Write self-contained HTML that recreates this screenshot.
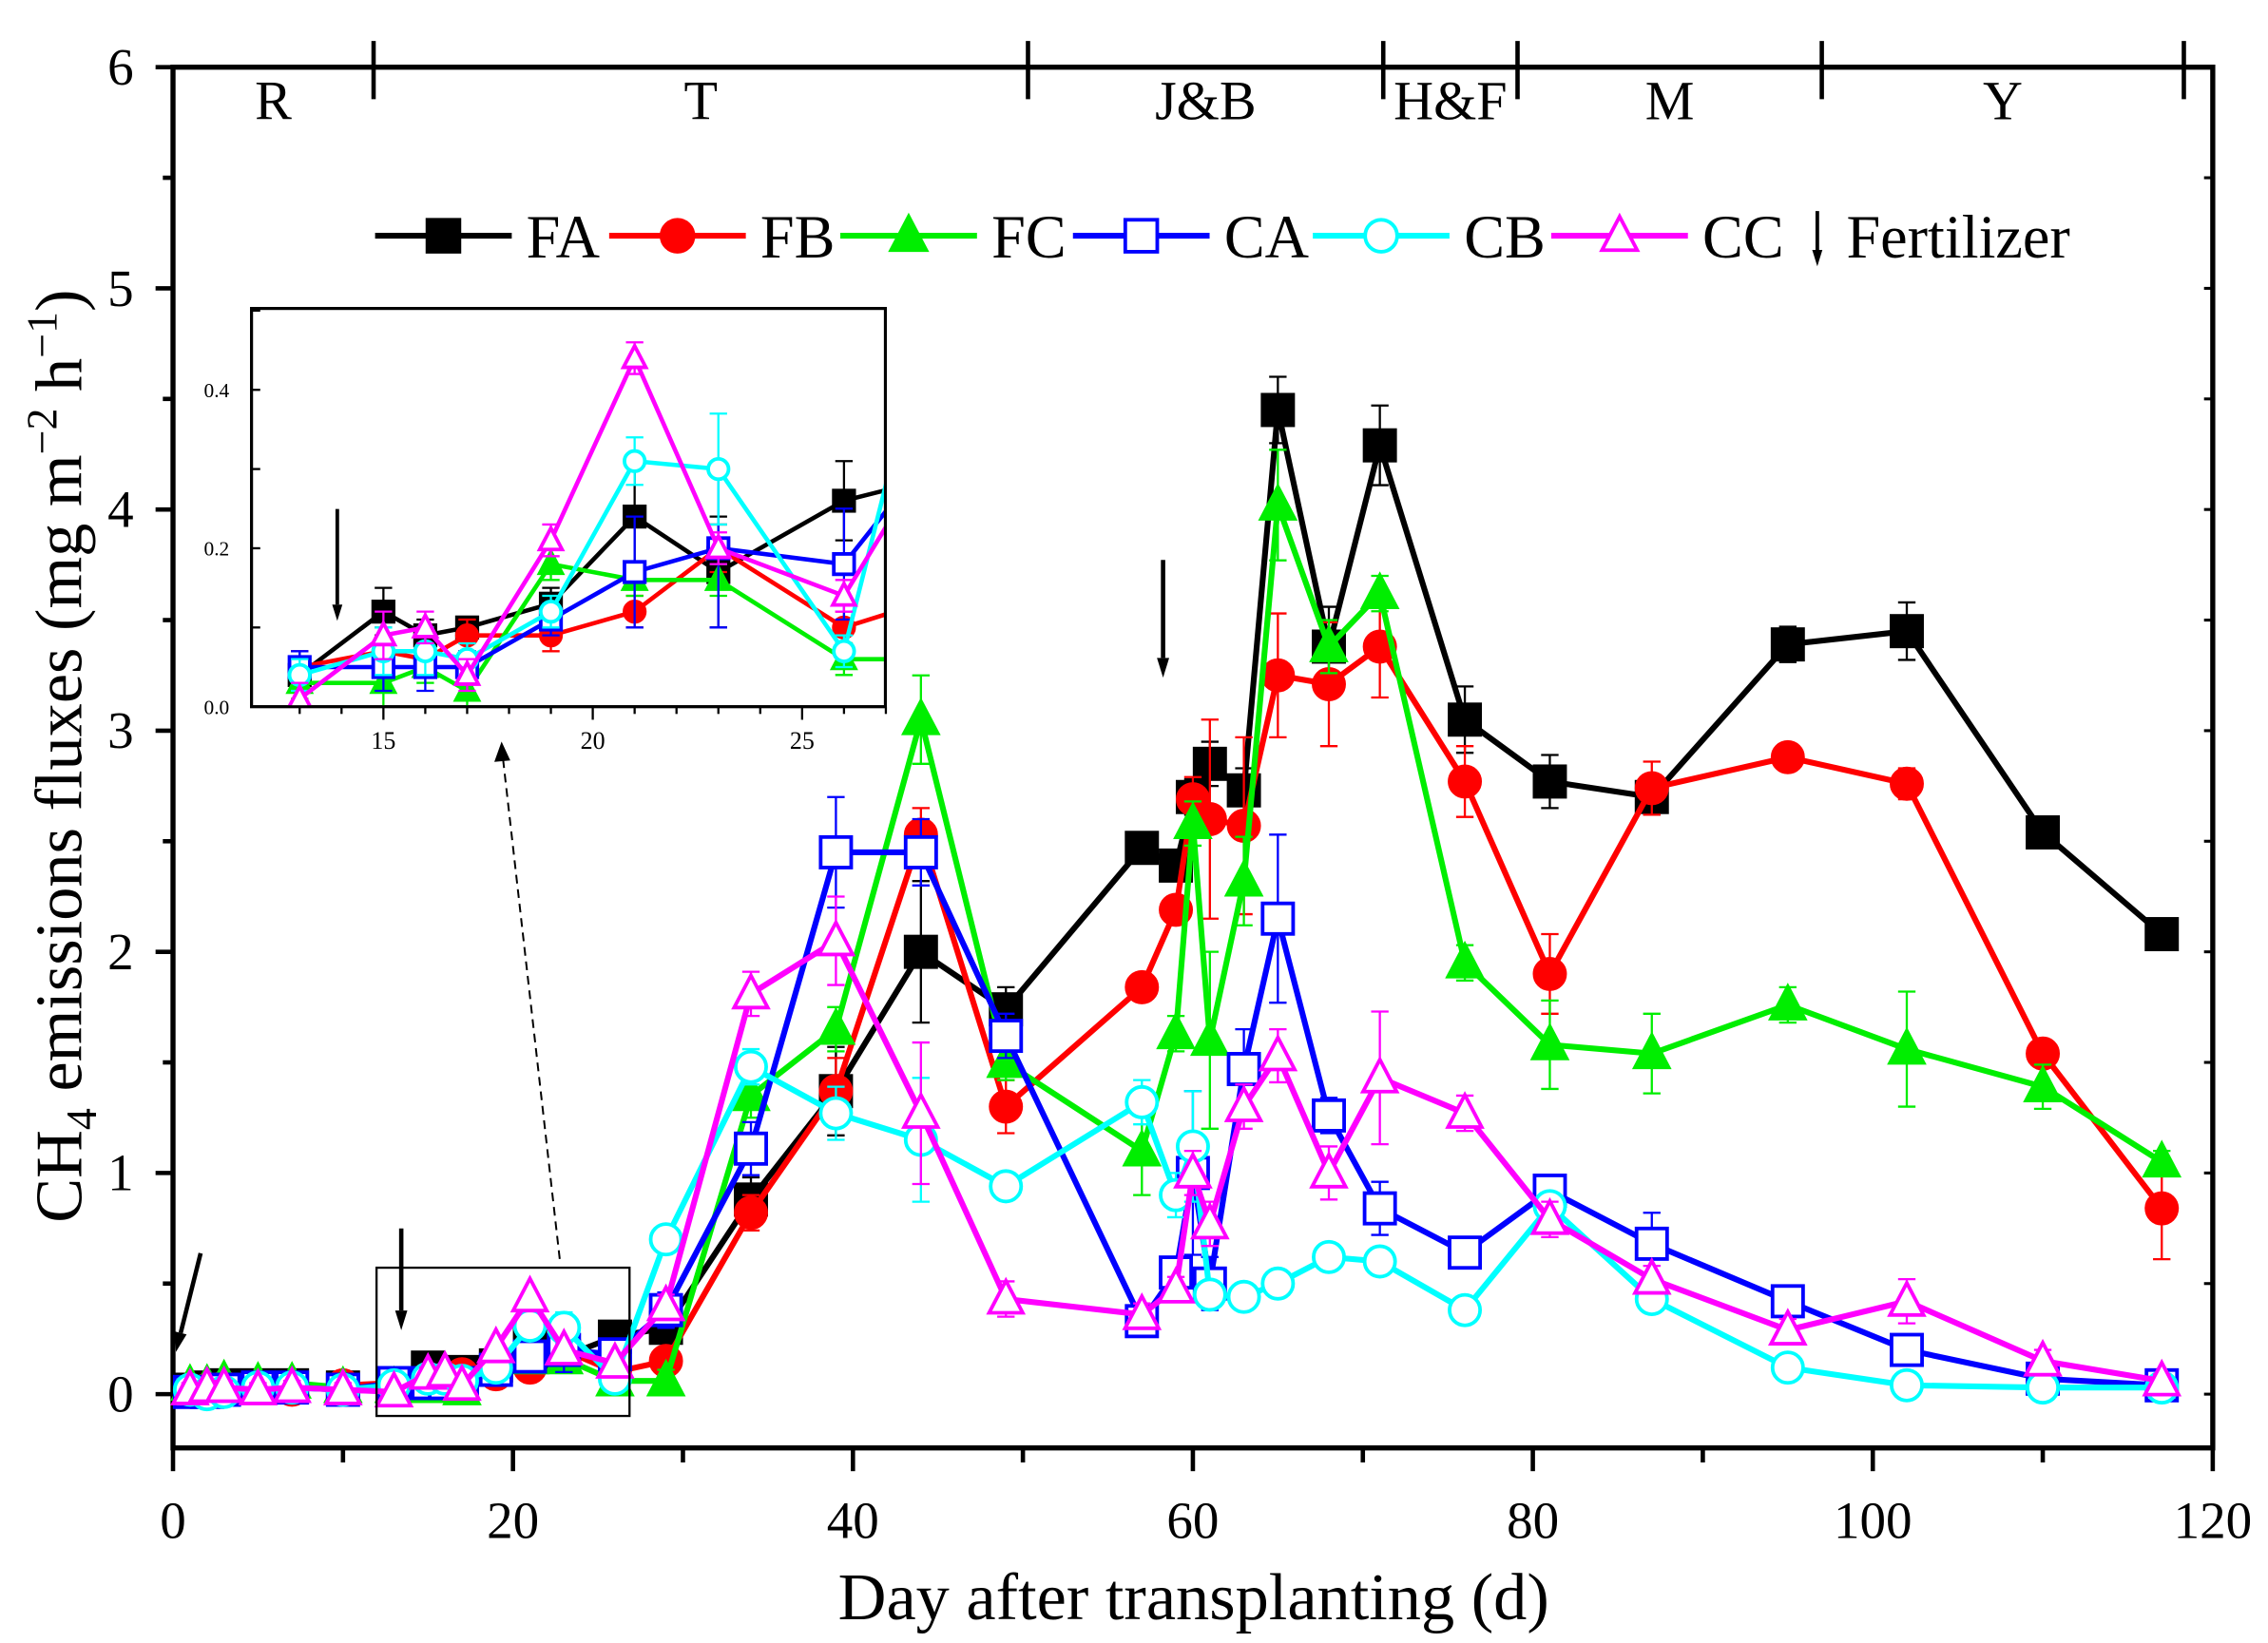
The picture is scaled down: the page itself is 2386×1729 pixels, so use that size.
<!DOCTYPE html>
<html><head><meta charset="utf-8"><style>
html,body{margin:0;padding:0;background:#fff;}
svg{display:block;font-family:"Liberation Serif",serif;}
</style></head><body>
<svg id="chart" width="2386" height="1729" viewBox="0 0 1560 1130" xmlns="http://www.w3.org/2000/svg">
<defs>
<clipPath id="insetClip"><rect x="173" y="212" width="436" height="274"/></clipPath>
</defs>
</svg>
<script>
const days=[1,2,3,5,7,10,13,15,16,17,19,21,23,26,29,34,39,44,49,57,59,60,61,63,65,68,71,76,81,87,95,102,110,117];
const FA=[0.02,0.03,0.04,0.04,0.04,0.03,0.04,0.12,0.09,0.10,0.13,0.24,0.17,0.26,0.30,0.88,1.37,2.00,1.74,2.47,2.39,2.70,2.85,2.73,4.45,3.38,4.29,3.05,2.77,2.70,3.39,3.45,2.54,2.08];
const FB=[0.02,0.02,0.03,0.03,0.02,0.04,0.05,0.07,0.06,0.09,0.09,0.12,0.20,0.10,0.15,0.82,1.37,2.53,1.30,1.84,2.19,2.69,2.60,2.57,3.25,3.21,3.38,2.77,1.90,2.74,2.88,2.76,1.54,0.84];
const FC=[0.04,0.04,0.06,0.05,0.05,0.03,0.03,0.03,0.05,0.02,0.18,0.16,0.16,0.06,0.06,1.35,1.65,3.05,1.50,1.10,1.63,2.58,1.60,2.32,4.02,3.38,3.62,1.95,1.58,1.54,1.76,1.56,1.39,1.05];
const CA=[0.01,0.01,0.02,0.03,0.03,0.02,0.05,0.05,0.05,0.05,0.11,0.17,0.20,0.18,0.38,1.11,2.45,2.45,1.62,0.33,0.55,1.00,0.50,1.47,2.15,1.26,0.84,0.64,0.92,0.68,0.42,0.20,0.07,0.04];
const CB=[0.02,0.00,0.01,0.03,0.03,0.02,0.04,0.07,0.07,0.06,0.12,0.31,0.30,0.07,0.70,1.48,1.27,1.15,0.94,1.32,0.90,1.12,0.45,0.44,0.50,0.62,0.60,0.38,0.85,0.43,0.12,0.04,0.03,0.03];
const CC=[0.02,0.03,0.03,0.02,0.03,0.02,0.01,0.09,0.10,0.04,0.21,0.44,0.20,0.14,0.40,1.81,2.05,1.27,0.43,0.36,0.48,1.00,0.77,1.30,1.53,1.00,1.43,1.27,0.79,0.52,0.29,0.42,0.15,0.06];
const errFA=[0.03,0.03,0.03,0.03,0.03,0.03,0.02,0.03,0.02,0.01,0.02,0.07,0.07,0.05,0.05,0.10,0.20,0.32,0.10,0.05,0.05,0.08,0.10,0.10,0.15,0.18,0.18,0.15,0.12,0.08,0.08,0.13,0.05,0.04];
const errFB=[0.03,0.03,0.03,0.03,0.03,0.03,0.02,0.03,0.02,0.02,0.02,0.02,0.03,0.02,0.05,0.08,0.15,0.12,0.12,0.05,0.05,0.10,0.45,0.40,0.28,0.28,0.23,0.16,0.18,0.12,0.06,0.07,0.06,0.23];
const errFC=[0.03,0.03,0.03,0.03,0.03,0.03,0.02,0.03,0.02,0.02,0.02,0.02,0.02,0.02,0.05,0.10,0.10,0.20,0.08,0.20,0.08,0.10,0.40,0.20,0.25,0.12,0.08,0.08,0.20,0.18,0.08,0.26,0.10,0.05];
const errCA=[0.03,0.03,0.03,0.03,0.03,0.03,0.02,0.03,0.03,0.02,0.02,0.07,0.10,0.07,0.08,0.12,0.25,0.15,0.10,0.05,0.05,0.37,0.12,0.18,0.38,0.08,0.12,0.05,0.06,0.14,0.05,0.05,0.03,0.03];
const errCB=[0.03,0.03,0.03,0.03,0.03,0.03,0.02,0.03,0.03,0.02,0.02,0.03,0.07,0.02,0.05,0.08,0.12,0.28,0.05,0.10,0.10,0.25,0.05,0.04,0.04,0.04,0.04,0.05,0.05,0.05,0.03,0.03,0.03,0.03];
const errCC=[0.03,0.03,0.03,0.03,0.03,0.03,0.02,0.03,0.02,0.02,0.02,0.02,0.02,0.02,0.05,0.10,0.20,0.32,0.08,0.05,0.05,0.10,0.10,0.10,0.12,0.12,0.30,0.08,0.08,0.06,0.05,0.10,0.05,0.03];
const xTicks=[0,20,40,60,80,100,120];
const yTicks=[0,1,2,3,4,5,6];
const insetXTicks=[15,20,25];
const insetYTicks=[0.0,0.2,0.4];
const stageNames=["R","T","J&B","H&F","M","Y"];
const stageBounds=[0,11.8,50.3,71.2,79.1,97.0,118.3];

const NS="http://www.w3.org/2000/svg";
const svg=document.getElementById('chart');
function el(tag,a,parent){const e=document.createElementNS(NS,tag);for(const k in a)e.setAttribute(k,a[k]);(parent||svg).appendChild(e);return e;}
const X0=119,X1=1522,Y0=959,YT=46,YB=996;
const xs=d=>X0+(X1-X0)*d/120;
const ys=v=>Y0-(Y0-YT)*v/6;
const IX0=173,IX1=609,IYT=212,IYB=486;
const ixs=d=>IX0+(d-11.85)*28.8;
const iys=v=>IYB-v*545;

let f=el('rect',{x:X0,y:YT,width:X1-X0,height:YB-YT,fill:'none',stroke:'#000','stroke-width':3.5});

for(let d=0;d<=120;d+=10){const major=d%20===0;
 const t=el('line',{x1:xs(d),x2:xs(d),y1:YB,y2:YB+(major?16:10),stroke:'#000','stroke-width':3});
 }
xTicks.forEach(v=>{const t=el('text',{x:xs(v),y:1058,'font-size':36,'text-anchor':'middle'});t.textContent=v;
 });
for(let v=0;v<=6;v+=0.5){const major=v%1===0;
 const t=el('line',{x1:X0,x2:X0-(major?12:7),y1:ys(v),y2:ys(v),stroke:'#000','stroke-width':3});
 }
yTicks.forEach(v=>{const t=el('text',{x:92,y:ys(v)+12,'font-size':36,'text-anchor':'end'});t.textContent=v;
 });
for(let v=0;v<=6;v+=0.5){const t=el('line',{x1:X1,x2:X1-6,y1:ys(v),y2:ys(v),stroke:'#000','stroke-width':2});
 }
stageBounds.forEach((b,i)=>{if(i===0)return;const t=el('line',{x1:xs(b),x2:xs(b),y1:28,y2:68,stroke:'#000','stroke-width':3});
 });
stageNames.forEach((n,i)=>{const t=el('text',{x:(xs(stageBounds[i])+xs(stageBounds[i+1]))/2,y:82,'font-size':38,'text-anchor':'middle'});t.textContent=n;
 });
let tt=el('text',{x:821,y:1114,'font-size':46,'text-anchor':'middle'});tt.textContent='Day after transplanting (d)';

let yt=el('text',{x:0,y:0,'font-size':46,'text-anchor':'middle',transform:'translate(56,520) rotate(-90)'});
yt.innerHTML='CH<tspan font-size="30" dy="10">4</tspan><tspan dy="-10"> emissions fluxes (mg m</tspan><tspan font-size="30" dy="-17">−2</tspan><tspan dy="17"> h</tspan><tspan font-size="30" dy="-17">−1</tspan><tspan dy="17">)</tspan>';


const series=[
 {name:'FA',v:FA,e:errFA,c:'#000',m:'sq',fill:true},
 {name:'FB',v:FB,e:errFB,c:'#ff0000',m:'ci',fill:true},
 {name:'FC',v:FC,e:errFC,c:'#00ee00',m:'tr',fill:true},
 {name:'CA',v:CA,e:errCA,c:'#0000ff',m:'sq',fill:false},
 {name:'CB',v:CB,e:errCB,c:'#00ffff',m:'ci',fill:false},
 {name:'CC',v:CC,e:errCC,c:'#ff00ff',m:'tr',fill:false}];
function marker(g,m,x,y,s,c,fill){let e;
 const fl=fill?c:'#fff',sw=s>12?2.5:1.8;
 if(m==='sq')e=el('rect',{x:x-s/2,y:y-s/2,width:s,height:s,fill:fl,stroke:c,'stroke-width':sw},g);
 else if(m==='ci')e=el('circle',{cx:x,cy:y,r:s/2,fill:fl,stroke:c,'stroke-width':sw},g);
 else e=el('polygon',{points:`${x},${y-s*0.6} ${x-s*0.55},${y+s*0.45} ${x+s*0.55},${y+s*0.45}`,fill:fl,stroke:c,'stroke-width':sw},g);
 return e;}
function drawSeries(g,sx,sy,sz,lw,filter){
 series.forEach(s=>{
  const sg=el('g',{},g);
  const pts=days.map((d,i)=>[d,s.v[i],s.e[i]]).filter(p=>filter(p[0]));
  const ln=el('polyline',{points:pts.map(p=>sx(p[0])+','+sy(p[1])).join(' '),fill:'none',stroke:s.c,'stroke-width':lw},sg);
  
  pts.forEach(p=>{
   const eb=el('path',{d:`M${sx(p[0])},${sy(p[1]-p[2])}V${sy(p[1]+p[2])}M${sx(p[0])-6},${sy(p[1]+p[2])}h12M${sx(p[0])-6},${sy(p[1]-p[2])}h12`,stroke:s.c,'stroke-width':1.5,fill:'none'},sg);
   
   const mk=marker(sg,s.m,sx(p[0]),sy(p[1]),sz,s.c,s.fill);
   
  });
 });}
const mainG=el('g',{});
drawSeries(mainG,xs,ys,21,4,d=>true);

let zb=el('rect',{x:259,y:872,width:174,height:102,fill:'none',stroke:'#000','stroke-width':1.5});

let dl=el('line',{x1:385,y1:866,x2:346,y2:522,stroke:'#000','stroke-width':1.3,'stroke-dasharray':'6,4'});

let dh=el('polygon',{points:'345,510 340,524 351,523',fill:'#000'});


const ig=el('g',{});
el('rect',{x:IX0,y:IYT,width:IX1-IX0,height:IYB-IYT,fill:'#fff',stroke:'#000','stroke-width':2},ig);
const ic=el('g',{'clip-path':'url(#insetClip)'},ig);
drawSeries(ic,ixs,iys,14,3,d=>d>=11&&d<=30);
for(let d=13;d<=27;d++){const major=d%5===0;const t=el('line',{x1:ixs(d),x2:ixs(d),y1:IYB,y2:IYB+(major?9:5),stroke:'#000','stroke-width':1.5},ig);
 }
insetXTicks.forEach(v=>{const t=el('text',{x:ixs(v),y:IYB+29,'font-size':17,'text-anchor':'middle'},ig);t.textContent=v;
 });
for(let v=0;v<=0.5;v+=0.1){const t=el('line',{x1:IX0,x2:IX0+6,y1:iys(v),y2:iys(v),stroke:'#000','stroke-width':1.5},ig);
 }
insetYTicks.forEach(v=>{const t=el('text',{x:IX0-24,y:iys(v)+5,'font-size':14,'text-anchor':'middle'},ig);t.textContent=v.toFixed(1);
 });
el('rect',{x:IX0,y:IYT,width:IX1-IX0,height:IYB-IYT,fill:'none',stroke:'#000','stroke-width':2},ig);

function arrow(x1,y1,x2,y2,w,name){const g=el('g',{});
 const a=Math.atan2(y2-y1,x2-x1),h=w*4.5;
 const bx=x2-Math.cos(a)*h,by=y2-Math.sin(a)*h,px=-Math.sin(a)*w*1.4,py=Math.cos(a)*w*1.4;
 el('line',{x1:x1,y1:y1,x2:bx,y2:by,stroke:'#000','stroke-width':w},g);
 el('polygon',{points:`${x2},${y2} ${bx+px},${by+py} ${bx-px},${by-py}`,fill:'#000'},g);}
arrow(800,385,800,466,3,'fertilizer-arrow');
arrow(276,845,276,915,3,'fertilizer-arrow');
arrow(138,862,121,930,3,'fertilizer-arrow');
arrow(232,350,232,427,2.5,'inset-fertilizer-arrow');

const lg=el('g',{});
const lx=[305,466,625,785,950,1114];
series.forEach((s,i)=>{const g=el('g',{},lg);
 el('line',{x1:lx[i]-47,x2:lx[i]+47,y1:162,y2:162,stroke:s.c,'stroke-width':4},g);
 marker(g,s.m,lx[i],162,22,s.c,s.fill);
 const t=el('text',{x:lx[i]+57,y:177,'font-size':42},g);t.textContent=s.name;});
arrow(1250,145,1250,183,2.5,'legend-fertilizer-arrow');
let ft=el('text',{x:1270,y:177,'font-size':42},lg);ft.textContent='Fertilizer';

</script>
</body></html>
